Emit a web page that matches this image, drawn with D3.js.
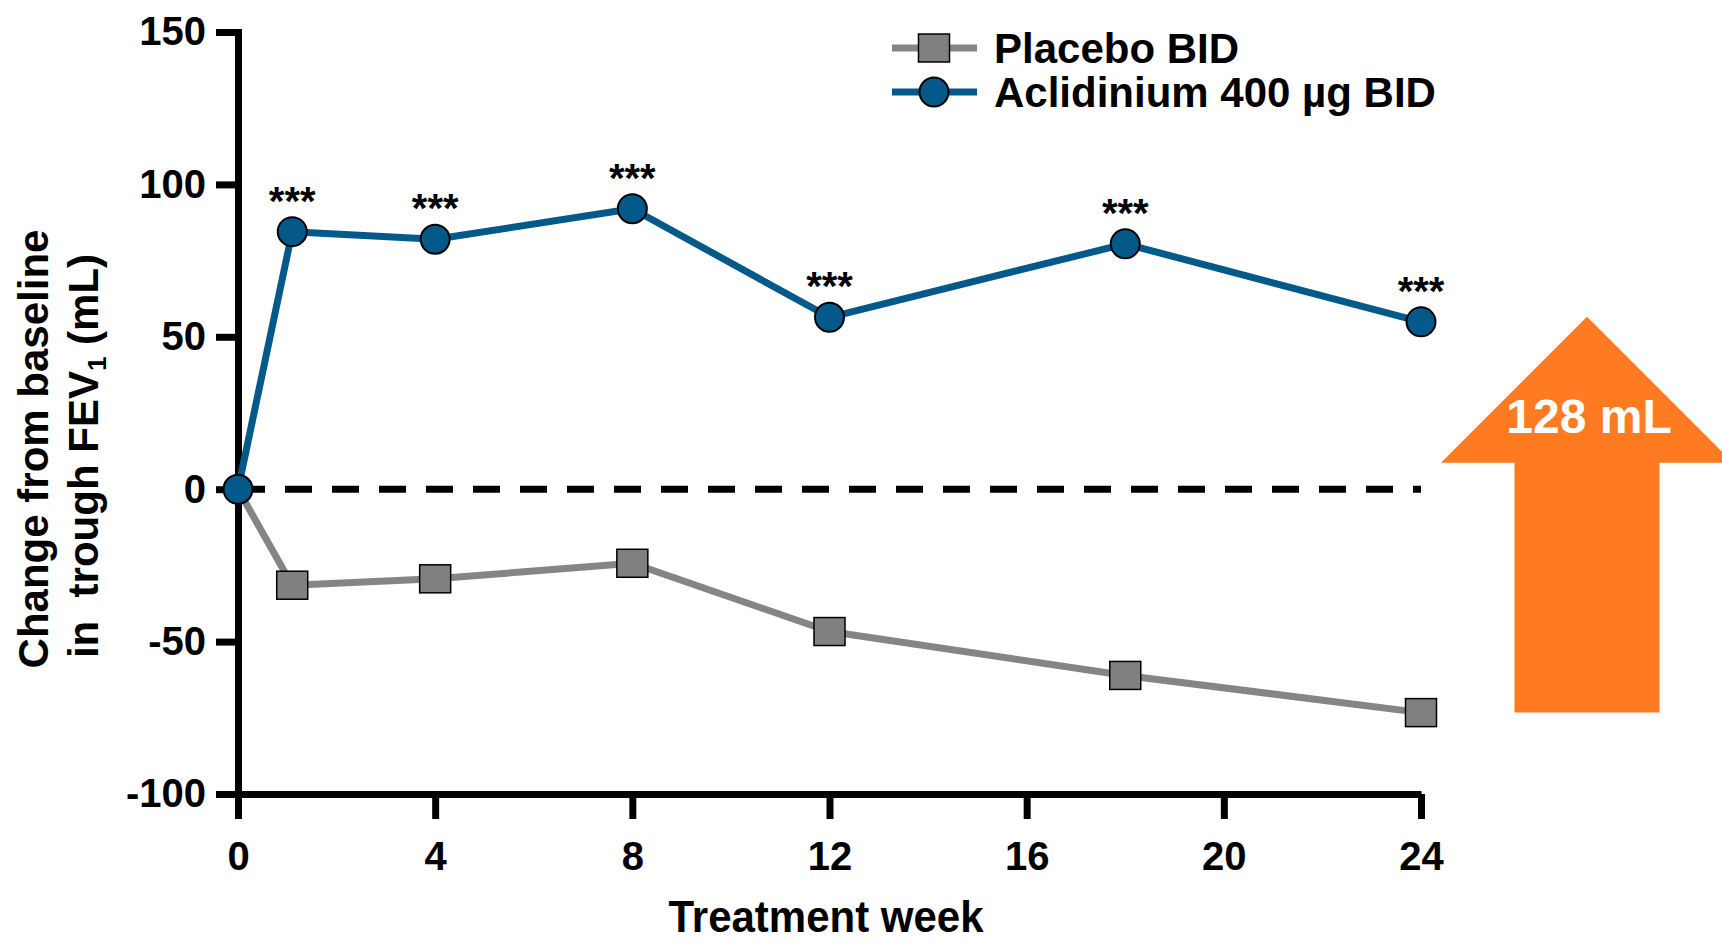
<!DOCTYPE html>
<html>
<head>
<meta charset="utf-8">
<script src="https://cdn.jsdelivr.net/npm/d3@7"></script>
<style>
  html, body { margin: 0; padding: 0; background: #fff; }
  svg { display: block; font-family: "Liberation Sans", Arial, sans-serif; }
  text { white-space: pre; }
</style>
</head>
<body>
<svg id="chart" width="1722" height="943"></svg>
<script>
// ---- Data ----
const weeks       = [0, 1.1, 4, 8, 12, 18, 24];
const placebo     = [0, -31.5, -29.4, -24.3, -46.7, -61.1, -73.3];
const aclidinium  = [0, 84.5, 82.0, 92.0, 56.4, 80.5, 54.9];
const sigLabels   = ["", "***", "***", "***", "***", "***", "***"];
const xTicks      = [0, 4, 8, 12, 16, 20, 24];
const yTicks      = [-100, -50, 0, 50, 100, 150];
const seriesNames = ["Placebo BID", "Aclidinium 400 µg BID"];
const diffLabel   = "128 mL";
const xTitle      = "Treatment week";

// ---- Styles ----
const BLUE = "#02598A", GRAY = "#858585", SQFILL = "#808080", ORANGE = "#FF7A21";

const svg = d3.select("#chart");
const x = d3.scaleLinear().domain([0, 24]).range([238, 1421]);
const y = d3.scaleLinear().domain([-100, 150]).range([794, 32]);

// Axes
const yAxis = svg.append("g").attr("transform", `translate(${x(0)},0)`)
  .call(d3.axisLeft(y).tickValues(yTicks).tickFormat(d => String(d))
    .tickSize(22).tickPadding(10).tickSizeOuter(0));
const xAxis = svg.append("g").attr("transform", `translate(0,${y(-100)})`)
  .call(d3.axisBottom(x).tickValues(xTicks).tickFormat(d => String(d))
    .tickSize(25).tickPadding(23).tickSizeOuter(0));

[yAxis, xAxis].forEach(g => {
  g.select(".domain").attr("stroke", "#000").attr("stroke-width", 7);
  g.selectAll(".tick line").attr("stroke", "#000").attr("stroke-width", 7);
  g.selectAll(".tick text").attr("fill", "#000")
    .attr("font-size", 40).attr("font-weight", "bold")
    .attr("font-family", "Liberation Sans, Arial, sans-serif");
});
yAxis.select(".domain").attr("stroke-linecap", "square");
xAxis.select(".domain").attr("stroke-linecap", "butt");

// Zero dashed line
svg.append("line")
  .attr("x1", x(0)).attr("x2", x(24))
  .attr("y1", y(0)).attr("y2", y(0))
  .attr("stroke", "#000").attr("stroke-width", 7)
  .attr("stroke-dasharray", "27,20");

const line = d3.line().x(d => x(d[0])).y(d => y(d[1]));
const pData = weeks.map((w, i) => [w, placebo[i]]);
const aData = weeks.map((w, i) => [w, aclidinium[i]]);

svg.append("path").attr("d", line(pData)).attr("fill", "none")
  .attr("stroke", GRAY).attr("stroke-width", 7).attr("stroke-linejoin", "round");
svg.append("path").attr("d", line(aData)).attr("fill", "none")
  .attr("stroke", BLUE).attr("stroke-width", 7).attr("stroke-linejoin", "round");

const SQW = 31, SQH = 28, R = 14.5;
svg.append("g").selectAll("rect").data(pData.filter(d => d[0] > 0)).join("rect")
  .attr("x", d => x(d[0]) - SQW / 2).attr("y", d => y(d[1]) - SQH / 2)
  .attr("width", SQW).attr("height", SQH)
  .attr("fill", SQFILL).attr("stroke", "#000").attr("stroke-width", 1.5);

svg.append("g").selectAll("circle").data(aData).join("circle")
  .attr("cx", d => x(d[0])).attr("cy", d => y(d[1])).attr("r", R)
  .attr("fill", BLUE).attr("stroke", "#000").attr("stroke-width", 2);

// Significance labels
svg.append("g").selectAll("text").data(aData.map((d, i) => [d[0], d[1], sigLabels[i]]))
  .join("text")
  .attr("x", d => x(d[0])).attr("y", d => y(d[1]) - 17)
  .attr("text-anchor", "middle").attr("font-size", 40).attr("font-weight", "bold")
  .attr("fill", "#000").text(d => d[2]);

// X title
svg.append("text").attr("transform", "translate(826,932) scale(1,1.05)")
  .attr("text-anchor", "middle")
  .attr("font-size", 42).attr("font-weight", "bold").attr("fill", "#000").text(xTitle);

// Y title (two lines, rotated)
svg.append("text").attr("transform", "translate(48,449) rotate(-90)")
  .attr("text-anchor", "middle").attr("font-size", 42).attr("font-weight", "bold")
  .attr("fill", "#000").text("Change from baseline");
const t2 = svg.append("text").attr("transform", "translate(98,456) rotate(-90)")
  .attr("text-anchor", "middle").attr("font-size", 42).attr("font-weight", "bold")
  .attr("fill", "#000");
t2.append("tspan").text("in  trough FEV");
t2.append("tspan").attr("font-size", 26).attr("dy", 8).text("1");
t2.append("tspan").attr("dy", -8).text(" (mL)");

// Legend
const legend = svg.append("g");
const legY = [48, 92];
legend.append("line").attr("x1", 892).attr("x2", 977).attr("y1", legY[0]).attr("y2", legY[0])
  .attr("stroke", GRAY).attr("stroke-width", 7);
legend.append("rect").attr("x", 934 - SQW / 2).attr("y", legY[0] - SQH / 2)
  .attr("width", SQW).attr("height", SQH)
  .attr("fill", SQFILL).attr("stroke", "#000").attr("stroke-width", 1.5);
legend.append("line").attr("x1", 892).attr("x2", 977).attr("y1", legY[1]).attr("y2", legY[1])
  .attr("stroke", BLUE).attr("stroke-width", 7);
legend.append("circle").attr("cx", 934).attr("cy", legY[1]).attr("r", R)
  .attr("fill", BLUE).attr("stroke", "#000").attr("stroke-width", 2);
seriesNames.forEach((n, i) => {
  legend.append("text").attr("x", 994).attr("y", legY[i] + 15)
    .attr("font-size", 42).attr("font-weight", "bold").attr("fill", "#000").text(n);
});

// Difference arrow (from placebo to aclidinium at week 24)
const last = weeks.length - 1;
const cx = 1587, shaftHalf = 72.5, headHalf = 146, headH = 146;
const yBottom = y(placebo[last]);
const yTip = y(aclidinium[last]) - 5;
const yHead = yTip + headH;
svg.append("polygon")
  .attr("points", [
    [cx, yTip], [cx + headHalf, yHead], [cx + shaftHalf, yHead],
    [cx + shaftHalf, yBottom], [cx - shaftHalf, yBottom], [cx - shaftHalf, yHead],
    [cx - headHalf, yHead]
  ].map(p => p.join(",")).join(" "))
  .attr("fill", ORANGE);
svg.append("text").attr("x", cx + 2).attr("y", 433).attr("text-anchor", "middle")
  .attr("font-size", 48).attr("font-weight", "bold").attr("fill", "#fff").text(diffLabel);
</script>
</body>
</html>
